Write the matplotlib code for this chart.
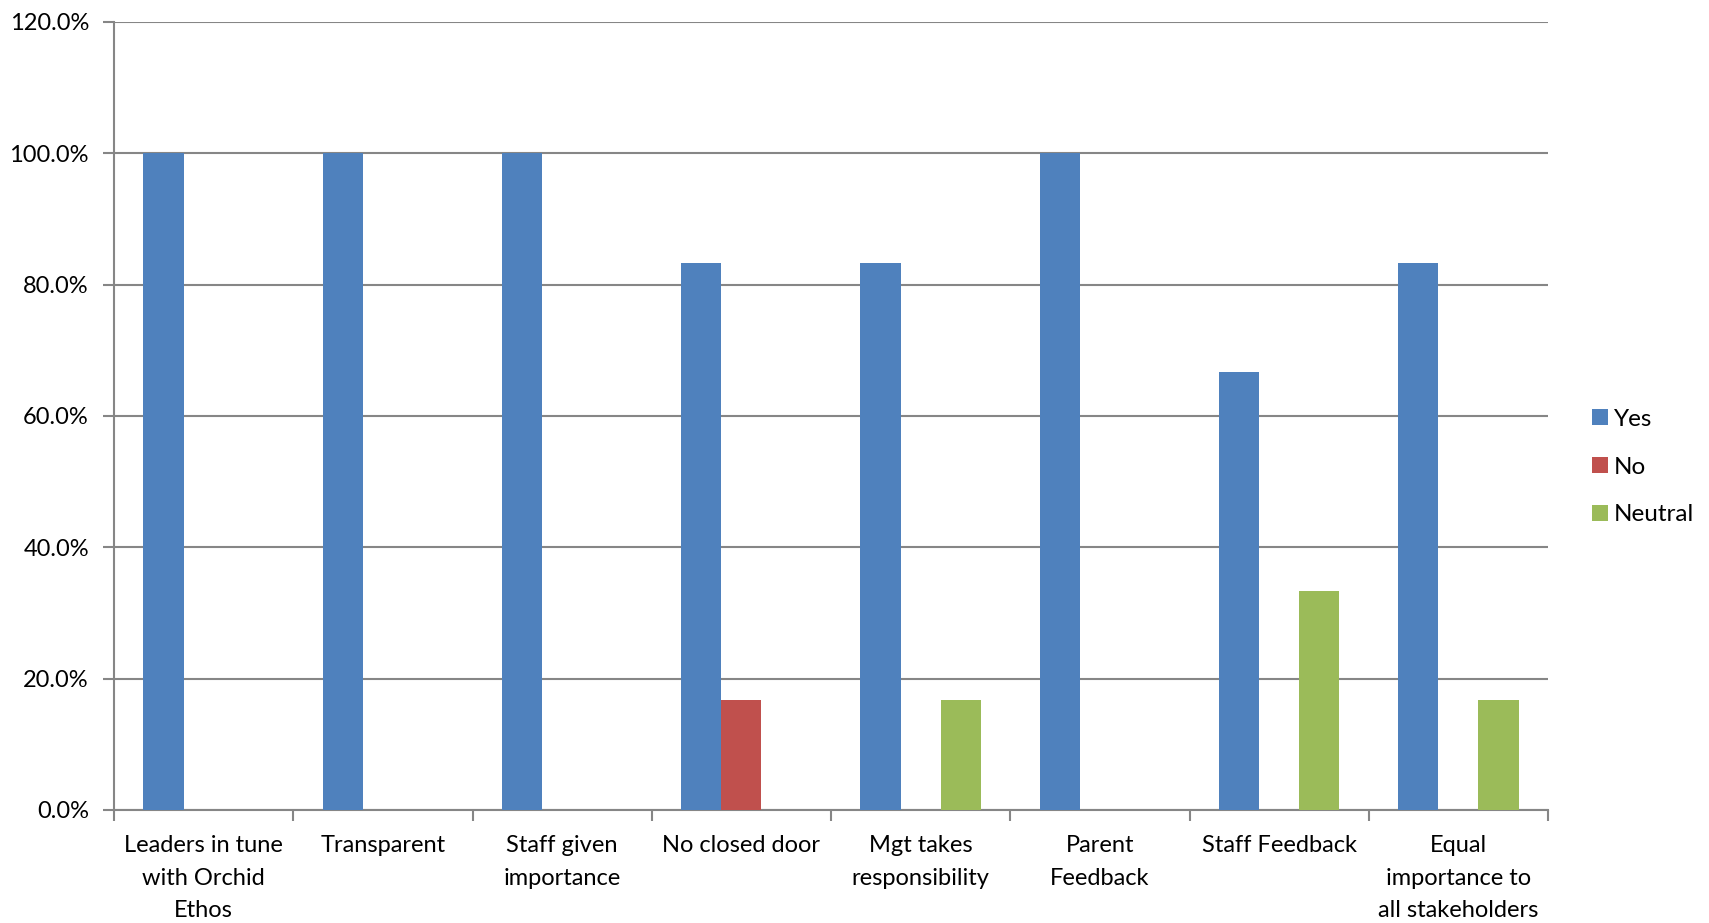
import matplotlib
matplotlib.use('Agg')
import matplotlib.pyplot as plt
import numpy as np
from matplotlib.ticker import FuncFormatter, MultipleLocator

categories = ['Leaders in tune\nwith Orchid\nEthos', 'Transparent', 'Staff given\nimportance',
              'No closed door', 'Mgt takes\nresponsibility', 'Parent\nFeedback',
              'Staff Feedback', 'Equal\nimportance to\nall stakeholders']
yes = [100.0, 100.0, 100.0, 83.3, 83.3, 100.0, 66.7, 83.3]
no = [0, 0, 0, 16.7, 0, 0, 0, 0]
neutral = [0, 0, 0, 0, 16.7, 0, 33.3, 16.7]
series_names = ['Yes', 'No', 'Neutral']
colors = ['#4f81bd', '#c0504d', '#9bbb59']

plt.rcParams['font.family'] = ['Lato', 'DejaVu Sans']

fig = plt.figure(figsize=(17.09, 9.23), dpi=100)
ax = fig.add_axes([114 / 1709, 1 - 810 / 923, (1548 - 114) / 1709, (810 - 22) / 923])

x = np.arange(len(categories))
w = 0.224
for i, (vals, name, c) in enumerate(zip([yes, no, neutral], series_names, colors)):
    ax.bar(x + (i - 1) * w, vals, w, color=c, label=name, zorder=3)

gc = '#868686'
ax.set_ylim(0, 120)
ax.set_xlim(-0.5, len(categories) - 0.5)
ax.yaxis.set_major_locator(MultipleLocator(20))
ax.yaxis.set_major_formatter(FuncFormatter(lambda v, p: f'{v:.1f}%'))
ax.grid(axis='y', color=gc, linewidth=1.5, zorder=0)

for s in ['top', 'right']:
    ax.spines[s].set_visible(False)
for s in ['left', 'bottom']:
    ax.spines[s].set_color(gc)
    ax.spines[s].set_linewidth(1.5)

ax.set_xticks(x)
ax.set_xticklabels(categories, fontsize=17, linespacing=1.68)
ax.set_xticks(np.arange(len(categories) + 1) - 0.5, minor=True)
ax.tick_params(axis='x', which='major', length=0, pad=18)
ax.tick_params(axis='x', which='minor', length=8, width=1.5, color=gc, direction='out')
ax.tick_params(axis='y', length=8, width=1.5, color=gc, labelsize=17, pad=10)

ax.legend(loc='center left', bbox_to_anchor=(1570 / 1709, 1 - 467 / 923),
          bbox_transform=fig.transFigure, frameon=False, fontsize=17.5,
          handlelength=0.65, handleheight=0.65, handletextpad=0.25, labelspacing=1.1)

fig.savefig('out.png', dpi=100)
